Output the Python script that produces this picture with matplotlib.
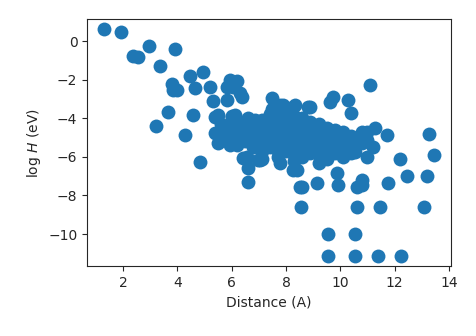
import matplotlib
matplotlib.use('Agg')
import matplotlib.pyplot as plt
import seaborn as sns
import numpy as np

# isolated points
distance_sparse = [1.30, 1.93, 2.37, 2.55, 2.96, 3.91, 3.36, 3.80, 3.99, 3.84,
                   4.47, 4.94, 4.65, 5.20, 3.66, 4.58, 3.21, 4.28, 5.31, 5.83,
                   4.83, 5.94, 6.20, 6.38, 5.83, 5.50, 5.68, 5.39, 5.50, 5.94,
                   6.12, 6.56, 6.86, 6.56, 6.60, 6.60, 6.97, 6.05, 6.31, 7.48,
                   7.78, 8.33, 8.81, 5.39, 6.01, 6.60, 6.42, 7.04, 8.51, 7.78,
                   8.40, 11.09, 9.73, 9.62, 10.28, 10.39, 8.88, 8.26, 7.89, 11.72,
                   11.27, 10.80, 10.98, 12.20, 11.75, 10.80, 10.61, 9.91, 9.14, 8.59,
                   9.88, 8.26, 13.26, 13.45, 12.45, 13.19, 10.80, 10.54, 11.20, 8.55,
                   10.61, 11.46, 13.08, 9.55, 10.54, 9.55, 10.54, 11.39, 12.23, 7.12]
logh_sparse = [0.62, 0.47, -0.78, -0.83, -0.26, -0.41, -1.30, -2.23, -2.54, -2.54,
               -1.81, -1.61, -2.44, -2.38, -3.68, -3.83, -4.40, -4.87, -3.11, -2.38,
               -6.27, -2.02, -2.07, -2.90, -3.06, -3.83, -4.46, -4.77, -5.28, -5.39,
               -3.83, -4.09, -4.09, -6.00, -6.58, -7.30, -6.17, -2.38, -2.69, -2.95,
               -3.32, -3.32, -3.42, -3.94, -3.94, -3.99, -6.06, -6.17, -7.56, -6.32,
               -6.68, -2.28, -2.90, -3.16, -3.06, -3.73, -3.42, -3.42, -3.42, -4.87,
               -4.51, -4.72, -6.01, -6.11, -7.36, -7.20, -7.56, -7.46, -7.36, -7.56,
               -6.84, -6.68, -4.82, -5.91, -6.99, -6.99, -7.46, -5.75, -5.49, -8.60,
               -8.60, -8.60, -8.60, -10.00, -10.00, -11.14, -11.14, -11.14, -11.14, -6.11]

# dense cluster, estimated column by column
distance_dense = [5.6, 5.6, 5.6, 5.9, 5.9, 5.9, 6.2, 6.2, 6.2, 6.2,
                  6.5, 6.5, 6.5, 6.8, 6.8, 6.8, 6.8, 7.1, 7.1, 7.1,
                  7.1, 7.1, 7.4, 7.4, 7.4, 7.4, 7.4, 7.7, 7.7, 7.7,
                  7.7, 7.7, 7.7, 8.0, 8.0, 8.0, 8.0, 8.0, 8.0, 8.3,
                  8.3, 8.3, 8.3, 8.3, 8.3, 8.3, 8.6, 8.6, 8.6, 8.6,
                  8.6, 8.6, 8.9, 8.9, 8.9, 8.9, 8.9, 9.2, 9.2, 9.2,
                  9.2, 9.2, 9.2, 9.5, 9.5, 9.5, 9.5, 9.5, 9.8, 9.8,
                  9.8, 9.8, 10.1, 10.1, 10.1, 10.1, 10.4, 10.4, 10.4, 10.8,
                  10.8, 11.0, 11.0, 6.0, 7.5, 7.9]
logh_dense = [-4.3, -4.8, -5.1, -4.5, -4.9, -5.2, -4.2, -4.6, -5.0, -5.4,
              -4.4, -4.8, -5.2, -4.3, -4.7, -5.0, -5.5, -4.1, -4.5, -4.9,
              -5.3, -5.7, -3.8, -4.3, -4.7, -5.1, -5.5, -3.9, -4.4, -4.8,
              -5.2, -5.7, -6.0, -3.7, -4.1, -4.5, -4.9, -5.3, -5.7, -3.9,
              -4.3, -4.7, -5.1, -5.5, -5.9, -6.2, -4.0, -4.4, -4.8, -5.2,
              -5.6, -6.0, -4.2, -4.6, -5.0, -5.4, -5.8, -4.3, -4.7, -5.1,
              -5.5, -5.9, -6.3, -4.5, -4.9, -5.3, -5.7, -6.1, -4.6, -5.0,
              -5.4, -5.8, -4.7, -5.2, -5.6, -6.0, -4.9, -5.4, -5.8, -5.0,
              -5.3, -4.7, -5.1, -3.9, -3.5, -3.3]

distance = np.array(distance_sparse + distance_dense)
logh = np.array(logh_sparse + logh_dense)

sns.set_style('ticks')
plt.rcParams['font.family'] = ['DejaVu Sans']

fig = plt.figure(figsize=(4.76, 3.36), dpi=100)
ax = fig.add_axes([0.183, 0.208, 0.764, 0.735])
ax.scatter(distance, logh, s=100, color='#1f77b4', linewidths=0)

ax.set_xlim(0.67, 14.07)
ax.set_ylim(-11.66, 1.14)
ax.set_xticks([2, 4, 6, 8, 10, 12, 14])
ax.set_yticks([0, -2, -4, -6, -8, -10])
ax.set_xlabel('Distance (A)', fontsize=10)
ax.set_ylabel(r'log $H$ (eV)', fontsize=10)
ax.tick_params(labelsize=10)

fig.savefig('out.png', dpi=100)
